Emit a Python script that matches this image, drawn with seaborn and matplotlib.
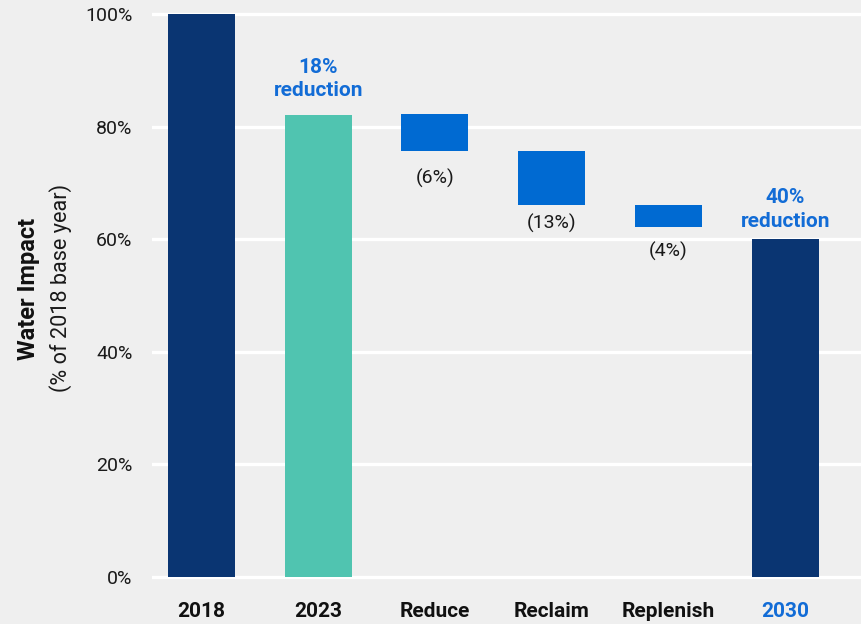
import matplotlib
matplotlib.use("Agg")
import matplotlib.pyplot as plt
import seaborn as sns
import pandas as pd

# ---- data ----
categories = ["2018", "2023", "Reduce", "Reclaim", "Replenish", "2030"]
bar_tops = [100, 82, 82.2, 75.6, 66.0, 60]
bar_bottoms = [0, 0, 75.6, 66.0, 62.2, 0]
bar_colors = ["#0a3572", "#50c4b0", "#006ad2", "#006ad2", "#006ad2", "#0a3572"]
step_labels = ["(6%)", "(13%)", "(4%)"]
step_cats = ["Reduce", "Reclaim", "Replenish"]
callout_cats = ["2023", "2030"]
callout_labels = ["18%\nreduction", "40%\nreduction"]
y_ticks = [0, 20, 40, 60, 80, 100]
y_tick_labels = ["0%", "20%", "40%", "60%", "80%", "100%"]

BG = "#efefef"
LABEL_BLUE = "#126cd6"

sns.set_theme(style="white")
plt.rcParams["font.family"] = ["Roboto", "DejaVu Sans"]

df = pd.DataFrame({
    "cat": categories,
    "height": [t - b for t, b in zip(bar_tops, bar_bottoms)],
    "bottom": bar_bottoms,
})

fig = plt.figure(figsize=(8.61, 6.24), dpi=100, facecolor=BG)
ymin, ymax = -0.5, 101
px_per = 5.63
ax_bottom_px = 577 + 0.5 * px_per
ax_top_px = 577 - 101 * px_per
ax = fig.add_axes([152 / 861, (624 - ax_bottom_px) / 624, 1 - 152 / 861,
                   (ax_bottom_px - ax_top_px) / 624])
ax.set_facecolor(BG)

sns.barplot(data=df, x="cat", y="height", hue="cat", order=categories,
            hue_order=categories, palette=dict(zip(categories, bar_colors)),
            width=0.574, legend=False, saturation=1, ax=ax, zorder=3)
for patch, b in zip(ax.patches, bar_bottoms):
    patch.set_y(b)
    patch.set_linewidth(0)

ax.set_xlim(-0.424, 5.65)
ax.set_ylim(ymin, ymax)
ax.set_yticks(y_ticks)
ax.set_yticklabels(y_tick_labels)
ax.yaxis.grid(True, color="white", linewidth=2.4, zorder=0)
ax.set_axisbelow(True)
for s in ax.spines.values():
    s.set_visible(False)
ax.tick_params(axis="y", length=0, pad=14, labelsize=14, labelcolor="#1a1a1a")
ax.tick_params(axis="x", length=0, pad=16, labelsize=15)
for lbl in ax.get_xticklabels():
    lbl.set_fontweight("bold")
    lbl.set_color(LABEL_BLUE if lbl.get_text() == "2030" else "#111111")
ax.set_xlabel("")
ax.set_ylabel("")

# step labels below the floating bars
step_offsets = [-12.8, -6.1, -10.7]
for cat, lab, off in zip(step_cats, step_labels, step_offsets):
    i = categories.index(cat)
    ax.annotate(lab, (i, bar_bottoms[i]), xytext=(0, off), textcoords="offset points",
                ha="center", va="top", fontsize=14, color="#1a1a1a")

# callouts above bars
offsets = [11, 6]
for cat, lab, off in zip(callout_cats, callout_labels, offsets):
    i = categories.index(cat)
    ax.annotate(lab, (i, bar_tops[i]), xytext=(0, off), textcoords="offset points",
                ha="center", va="bottom", fontsize=15, fontweight="bold",
                color=LABEL_BLUE, linespacing=1.3)

# y axis title (two weights)
fig.text(29 / 861, 1 - 289 / 624, "Water Impact", rotation=90, ha="center",
         va="center", fontsize=17, fontweight="bold", color="#111111")
fig.text(61 / 861, 1 - 288 / 624, "(% of 2018 base year)", rotation=90,
         ha="center", va="center", fontsize=15.6, color="#1a1a1a")

fig.savefig("out.png", dpi=100, facecolor=BG)
